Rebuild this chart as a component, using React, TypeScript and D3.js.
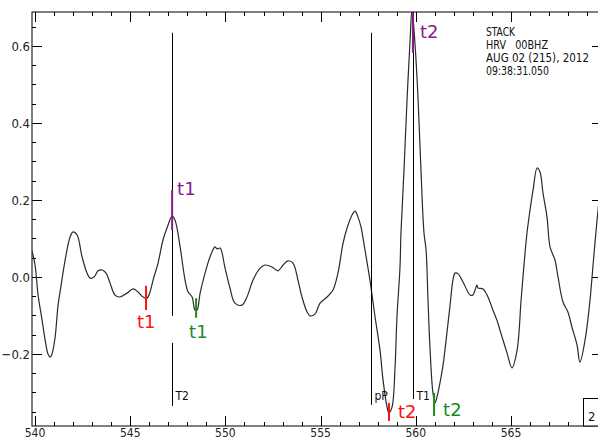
import React from "react";
import * as d3 from "d3";

// Seismogram trace (time in seconds, amplitude)
const times = [
  539.84, 540.0, 540.16, 540.37, 540.53, 540.68, 540.79, 540.89, 541.05, 541.21,
  541.37, 541.58, 541.84, 542.0, 542.21, 542.47, 542.73, 542.89, 543.1, 543.31,
  543.52, 543.73, 543.94, 544.2, 544.46, 544.83, 545.15, 545.41, 545.67, 545.88,
  546.04, 546.2, 546.46, 546.72, 546.93, 547.2, 547.35, 547.62, 547.88, 548.04,
  548.25, 548.4, 548.51, 548.67, 548.93, 549.19, 549.45, 549.56, 549.72, 549.98,
  550.24, 550.5, 550.87, 551.13, 551.45, 551.82, 552.08, 552.45, 552.76, 553.03,
  553.29, 553.55, 553.81, 554.02, 554.29, 554.44, 554.71, 554.97, 555.34, 555.65,
  555.91, 556.18, 556.39, 556.65, 556.81, 556.96, 557.12, 557.33, 557.59, 557.86,
  558.12, 558.28, 558.49, 558.59, 558.75, 558.91, 559.01, 559.17, 559.22, 559.38,
  559.54, 559.7, 559.8, 559.96, 560.12, 560.27, 560.43, 560.54, 560.64, 560.75,
  560.9, 561.01, 561.11, 561.27, 561.43, 561.53, 561.8, 561.95, 562.06, 562.22,
  562.48, 562.85, 563.0, 563.21, 563.27, 563.53, 563.79, 564.05, 564.26, 564.42,
  564.79, 565.05, 565.32, 565.53, 565.68, 565.84, 566.0, 566.16, 566.37, 566.52,
  566.68, 566.89, 567.05, 567.31, 567.47, 567.73, 567.99, 568.2, 568.47, 568.62,
  568.89, 569.15, 569.31, 569.52, 569.68,
];
const amps = [
  0.068, 0.031, -0.047, -0.112, -0.164, -0.2, -0.208, -0.2, -0.158, -0.073,
  -0.021, 0.044, 0.104, 0.117, 0.109, 0.052, 0.01, -0.003, 0.0, 0.016,
  0.018, 0.01, -0.016, -0.047, -0.052, -0.042, -0.031, -0.039, -0.052, -0.055,
  -0.039, -0.008, 0.036, 0.096, 0.127, 0.158, 0.148, 0.078, -0.008, -0.039,
  -0.052, -0.086, -0.086, -0.042, 0.01, 0.052, 0.078, 0.073, 0.075, 0.023,
  -0.029, -0.068, -0.073, -0.052, -0.008, 0.023, 0.031, 0.026, 0.016, 0.031,
  0.042, 0.036, -0.008, -0.052, -0.091, -0.101, -0.096, -0.068, -0.052, -0.034,
  0.01, 0.088, 0.127, 0.161, 0.171, 0.156, 0.13, 0.07, -0.008, -0.104,
  -0.19, -0.268, -0.338, -0.353, -0.338, -0.234, -0.104, 0.026, 0.114, 0.278,
  0.46, 0.616, 0.694, 0.603, 0.46, 0.278, 0.114, 0.07, -0.06, -0.19,
  -0.301, -0.327, -0.312, -0.275, -0.229, -0.19, -0.073, -0.008, 0.01, 0.008,
  -0.013, -0.047, -0.047, -0.021, -0.029, -0.031, -0.052, -0.086, -0.112, -0.138,
  -0.197, -0.236, -0.19, -0.06, 0.03, 0.114, 0.174, 0.226, 0.283, 0.273,
  0.218, 0.156, 0.078, 0.044, 0.0, -0.065, -0.091, -0.13, -0.177, -0.221,
  -0.164, -0.06, 0.031, 0.148, 0.226,
];

// Axis ticks
const xTickLabels = [540, 545, 550, 555, 560, 565];
const xMinorTicks = d3.range(540, 570, 1);
const yTickLabels = [-0.2, 0.0, 0.2, 0.4, 0.6];
const yMinorTicks = d3.range(-0.35, 0.7, 0.05).map((v) => Math.round(v * 100) / 100);

// Phase markers (vertical black lines)
const phaseNames = ["T2", "pP", "T1"];
const phaseTimes = [547.2, 557.65, 559.85];
const phaseTops = [0.634, 0.634, 0.688];
const phaseBottoms = [-0.335, -0.332, -0.317];
// T2 line has a gap
const phaseGapTop = -0.101;
const phaseGapBottom = -0.171;

// Picks
const pickLabels = ["t1", "t1", "t1", "t2", "t2", "t2"];
const pickTimes = [547.2, 545.83, 548.46, 559.85, 558.59, 560.96];
const pickTops = [0.226, -0.023, -0.055, 0.686, -0.327, -0.301];
const pickBottoms = [0.122, -0.086, -0.106, 0.582, -0.374, -0.361];
const pickColors = ["#8a1a8a", "#ff1010", "#1d8a1d", "#8a1a8a", "#ff1010", "#1d8a1d"];
// label offsets (px) relative to pick line x
const pickLabelDx = [5, -9, -7, 7, 9, 9];
const pickLabelY = [195, 328, 338, 38, 418, 416];

const headerLines = ["STACK", "HRV   00BHZ", "AUG 02 (215), 2012", "09:38:31.050"];
const headerWidths = [29, 62, 103, 63];

const W = 598;
const H = 439;
const L = 32;
const R = 602;
const T = 12;
const B = 426;

export default function App() {
  const x = d3.scaleLinear().domain([539.84, 569.78]).range([L, R]);
  const y = d3.scaleLinear().domain([-0.387, 0.688]).range([B, T]);
  const pts: [number, number][] = times.map((t, i) => [t, amps[i]]);
  const line = d3
    .line<[number, number]>()
    .x((d) => x(d[0]))
    .y((d) => y(d[1]))
    .curve(d3.curveCatmullRom.alpha(0.5));

  const narrow = "'Liberation Sans Narrow', 'DejaVu Sans Condensed', 'Arial Narrow', sans-serif";
  const labelFont = "'DejaVu Sans', Verdana, sans-serif";

  return (
    <svg
      width={W}
      height={H}
      style={{ position: "absolute", left: 0, top: 0, background: "#fff" }}
    >
      <defs>
        <clipPath id="plot">
          <rect x={L} y={T} width={R - L} height={B - T} />
        </clipPath>
      </defs>
      <rect x={0} y={0} width={W} height={H} fill="#fff" />

      {/* frame */}
      <rect x={L} y={T} width={R - L} height={B - T} fill="none" stroke="#000" strokeWidth={1} />

      {/* x ticks top and bottom */}
      {xMinorTicks.map((t) => {
        const major = t % 5 === 0;
        const len = major ? 10 : 4;
        const xx = Math.round(x(t)) + 0.5;
        return (
          <g key={"xt" + t}>
            <line x1={xx} x2={xx} y1={B} y2={B - len} stroke="#000" />
            <line x1={xx} x2={xx} y1={T} y2={T + len} stroke="#000" />
          </g>
        );
      })}
      {xTickLabels.map((t) => (
        <text
          key={"xl" + t}
          x={x(t)}
          y={436.5}
          textAnchor="middle"
          fontFamily={narrow}
          fontSize={12}
          fill="#222"
        >
          {t}
        </text>
      ))}

      {/* y ticks left and right */}
      {yMinorTicks.map((v) => {
        const major = Math.abs(Math.round(v * 100) % 20) === 0;
        const len = major ? 10 : 4;
        const yy = Math.round(y(v)) + 0.5;
        return (
          <g key={"yt" + v}>
            <line x1={L} x2={L + len} y1={yy} y2={yy} stroke="#000" />
            <line x1={R} x2={R - len} y1={yy} y2={yy} stroke="#000" />
          </g>
        );
      })}
      {yTickLabels.map((v) => (
        <text
          key={"yl" + v}
          x={30}
          y={y(v) + 5}
          textAnchor="end"
          fontFamily={narrow}
          fontSize={13}
          fill="#222"
        >
          {d3.format(".1f")(v)}
        </text>
      ))}

      {/* trace */}
      <path
        d={line(pts) || ""}
        fill="none"
        stroke="#2a2a2a"
        strokeWidth={1.2}
        clipPath="url(#plot)"
      />

      {/* phase markers */}
      {phaseNames.map((n, i) => {
        const xx = Math.round(x(phaseTimes[i])) + 0.5;
        const segs =
          n === "T2"
            ? [
                [phaseTops[i], phaseGapTop],
                [phaseGapBottom, phaseBottoms[i]],
              ]
            : [[phaseTops[i], phaseBottoms[i]]];
        return (
          <g key={"ph" + n}>
            {segs.map((s, j) => (
              <line key={j} x1={xx} x2={xx} y1={y(s[0])} y2={y(s[1])} stroke="#000" strokeWidth={1} />
            ))}
            <text
              x={xx + 3}
              y={400}
              fontFamily={narrow}
              fontSize={12}
              fill="#111"
            >
              {n}
            </text>
          </g>
        );
      })}

      {/* picks */}
      {pickLabels.map((lab, i) => {
        const xx = x(pickTimes[i]);
        return (
          <g key={"pk" + i}>
            <line
              x1={xx}
              x2={xx}
              y1={y(pickTops[i])}
              y2={y(pickBottoms[i])}
              stroke={pickColors[i]}
              strokeWidth={2}
            />
            <text
              x={xx + pickLabelDx[i]}
              y={pickLabelY[i]}
              fontFamily={labelFont}
              fontSize={18}
              fill={pickColors[i]}
            >
              {lab}
            </text>
          </g>
        );
      })}

      {/* header */}
      {headerLines.map((s, i) => (
        <text
          key={"hd" + i}
          x={486}
          y={36 + i * 13}
          fontFamily={narrow}
          fontSize={12}
          fill="#111"
          textLength={headerWidths[i]}
          lengthAdjust="spacingAndGlyphs"
          style={{ whiteSpace: "pre" }}
        >
          {s}
        </text>
      ))}

      {/* box at bottom right */}
      <rect x={583.5} y={398.5} width={30} height={B - 398.5} fill="#fff" stroke="#000" />
      <text x={588} y={421} fontFamily={narrow} fontSize={13} fill="#111">
        2
      </text>
    </svg>
  );
}
